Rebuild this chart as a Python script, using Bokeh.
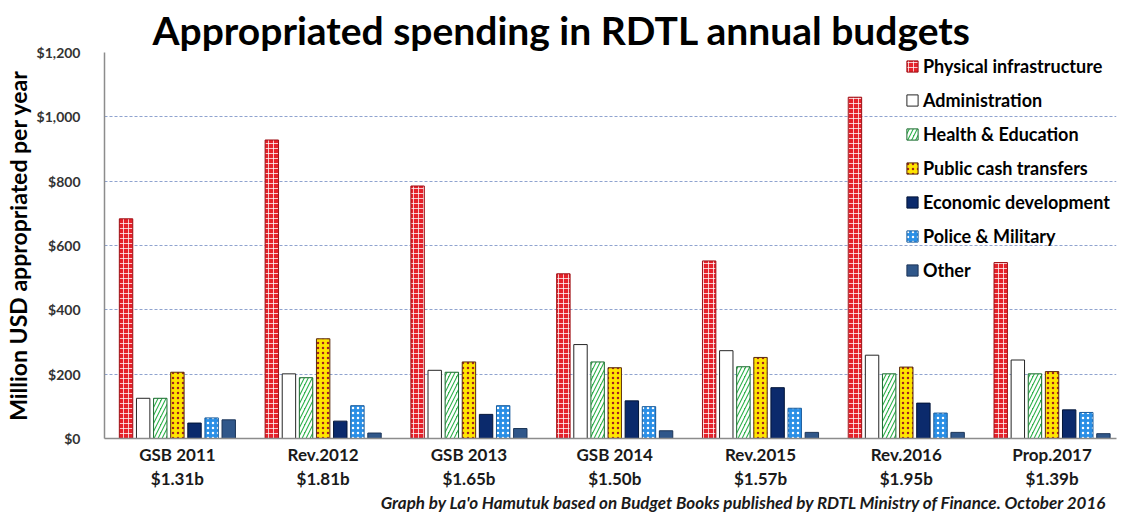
from bokeh.plotting import figure
from bokeh.models import (LinearAxis, FixedTicker, Range1d, Title, Legend, LegendItem,
                          NumeralTickFormatter, ColumnDataSource)
from bokeh.embed import file_html
from bokeh.resources import INLINE

categories = ["GSB 2011", "Rev.2012", "GSB 2013", "GSB 2014", "Rev.2015", "Rev.2016", "Prop.2017"]
totals = ["$1.31b", "$1.81b", "$1.65b", "$1.50b", "$1.57b", "$1.95b", "$1.39b"]

series_names = ["Physical infrastructure", "Administration", "Health & Education",
                "Public cash transfers", "Economic development", "Police & Military", "Other"]
physical = [683, 928, 785, 512, 552, 1061, 547]
administration = [125, 201, 212, 292, 273, 259, 244]
health_education = [125, 189, 206, 238, 223, 201, 201]
cash_transfers = [206, 310, 238, 220, 252, 222, 208]
economic = [48, 54, 75, 117, 158, 110, 89]
police_military = [64, 102, 102, 99, 94, 79, 81]
other = [58, 17, 31, 24, 19, 19, 15]
series_values = [physical, administration, health_education, cash_transfers,
                 economic, police_military, other]

y_ticks = [0, 200, 400, 600, 800, 1000, 1200]
footer_text = "Graph by La'o Hamutuk based on Budget Books published by RDTL Ministry of Finance.  October 2016"

styles = [
    dict(fill_color="#e5222b", line_color="#9e1016", hatch_pattern="cross", hatch_color="white",
         hatch_scale=5, hatch_weight=1, hatch_alpha=0.75),
    dict(fill_color="white", line_color="#262626"),
    dict(fill_color="#2fb24c", line_color="#1c6b30", hatch_pattern="right_diagonal_line",
         hatch_color="white", hatch_scale=8, hatch_weight=2.5),
    dict(fill_color="#ffe500", line_color="#5a2a10", hatch_pattern="dot", hatch_color="#a3241b",
         hatch_scale=5, hatch_weight=1.5),
    dict(fill_color="#0b2a6c", line_color="#031538"),
    dict(fill_color="#2a8fe6", line_color="#1a5c9c", hatch_pattern="dot", hatch_color="white",
         hatch_scale=5, hatch_weight=1.5),
    dict(fill_color="#30578a", line_color="#1c3558"),
]

FONT = "Lato"

p = figure(width=1118, height=515, output_backend="svg", toolbar_location=None,
           x_range=Range1d(0, 6.942), y_range=Range1d(0, 1200),
           min_border_left=99, min_border_right=2, min_border_top=52, min_border_bottom=76,
           background_fill_color="white", border_fill_color="white")
p.outline_line_color = None

centers = [i + 0.5 for i in range(len(categories))]
step = 0.1174
bar_w = 0.092
renderers = []
for k, (name, vals, st) in enumerate(zip(series_names, series_values, styles)):
    xs = [c + (k - 3) * step for c in centers]
    src = ColumnDataSource(dict(x=xs, top=vals))
    r = p.vbar(x="x", top="top", width=bar_w, bottom=0, source=src, line_width=1, **st)
    renderers.append(r)

# title
p.title = Title(text="Appropriated spending in RDTL annual budgets", align="left", offset=48,
                text_font=FONT, text_font_size="39px", text_font_style="bold",
                text_color="black", standoff=0)

# y axis
p.yaxis.ticker = FixedTicker(ticks=y_ticks)
p.yaxis.formatter = NumeralTickFormatter(format="$0,0")
p.yaxis.major_label_text_font = FONT
p.yaxis.major_label_text_font_size = "14px"
p.yaxis.major_label_text_font_style = "bold"
p.yaxis.major_label_text_color = "#333333"
p.yaxis.major_tick_line_color = None
p.yaxis.minor_tick_line_color = None
p.yaxis.major_tick_out = 0
p.yaxis.major_label_standoff = 24
p.yaxis.axis_line_color = "#8c8c8c"
p.yaxis.axis_line_width = 1.5
p.yaxis.axis_label = "Million USD appropriated per year"
p.yaxis.axis_label_text_font = FONT
p.yaxis.axis_label_text_font_size = "23px"
p.yaxis.axis_label_text_font_style = "bold"
p.yaxis.axis_label_text_color = "black"
p.yaxis.axis_label_standoff = 2

# grid
p.xgrid.grid_line_color = None
p.ygrid.ticker = FixedTicker(ticks=y_ticks)
p.ygrid.grid_line_color = "#8fa3cf"
p.ygrid.grid_line_dash = "3 2"
p.ygrid.grid_line_width = 1

def plain_axis(ax, size, style, standoff):
    ax.major_tick_line_color = None
    ax.minor_tick_line_color = None
    ax.major_tick_out = 0
    ax.major_tick_in = 0
    ax.major_label_standoff = standoff
    ax.major_label_text_font = FONT
    ax.major_label_text_font_size = size
    ax.major_label_text_font_style = style
    ax.major_label_text_color = "#1a1a1a"

# x axis: categories
p.xaxis.ticker = FixedTicker(ticks=centers)
p.xaxis.major_label_overrides = {c: lab for c, lab in zip(centers, categories)}
plain_axis(p.xaxis[0], "17px", "bold", 5)
p.xaxis.axis_line_color = "#8c8c8c"
p.xaxis.axis_line_width = 1.5

# second x axis: totals
ax2 = LinearAxis(ticker=FixedTicker(ticks=centers),
                 major_label_overrides={c: t for c, t in zip(centers, totals)})
ax2.axis_line_color = None
plain_axis(ax2, "17px", "bold", 0)
p.add_layout(ax2, "below")

# source note, as a one-tick axis under the chart
note_pos = 4.5
ax3 = LinearAxis(ticker=FixedTicker(ticks=[note_pos]), major_label_overrides={note_pos: footer_text})
ax3.axis_line_color = None
plain_axis(ax3, "17px", "bold italic", 0)
p.add_layout(ax3, "below")

legend = Legend(items=[LegendItem(label=n, renderers=[r]) for n, r in zip(series_names, renderers)],
                location=(799, 155), orientation="vertical",
                label_text_font=FONT, label_text_font_size="18px", label_text_font_style="bold",
                label_text_color="black", glyph_width=14, glyph_height=14, label_height=23,
                label_standoff=4, spacing=11, padding=2, margin=0,
                background_fill_alpha=0, border_line_alpha=0)
p.add_layout(legend)

open("out.html", "w").write(file_html(p, INLINE))
